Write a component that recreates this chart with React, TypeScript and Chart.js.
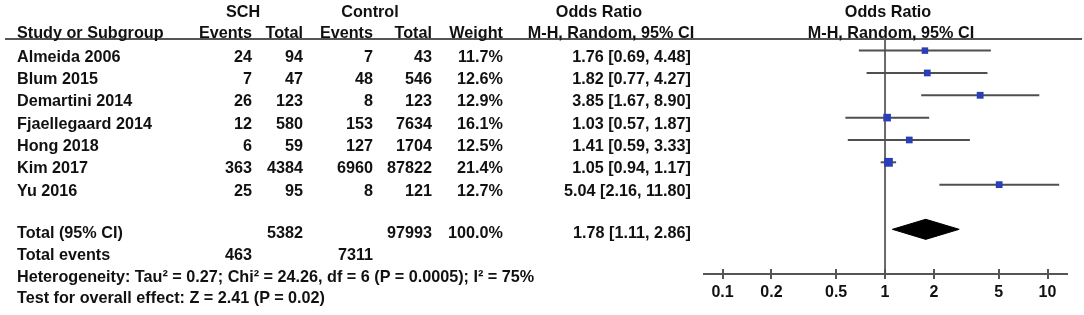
import React, { useEffect, useRef } from "react";
import { Chart, registerables } from "chart.js";

Chart.register(...registerables);

// ---------- data ----------
const studies = ["Almeida 2006", "Blum 2015", "Demartini 2014", "Fjaellegaard 2014", "Hong 2018", "Kim 2017", "Yu 2016"];
const schEvents = [24, 7, 26, 12, 6, 363, 25];
const schTotal = [94, 47, 123, 580, 59, 4384, 95];
const ctrlEvents = [7, 48, 8, 153, 127, 6960, 8];
const ctrlTotal = [43, 546, 123, 7634, 1704, 87822, 121];
const weights = [11.7, 12.6, 12.9, 16.1, 12.5, 21.4, 12.7];
const oddsRatio = [1.76, 1.82, 3.85, 1.03, 1.41, 1.05, 5.04];
const ciLow = [0.69, 0.77, 1.67, 0.57, 0.59, 0.94, 2.16];
const ciHigh = [4.48, 4.27, 8.9, 1.87, 3.33, 1.17, 11.8];

const totalSch = 5382;
const totalCtrl = 97993;
const totalWeight = 100.0;
const totalEventsSch = 463;
const totalEventsCtrl = 7311;
const pooled = [1.78, 1.11, 2.86]; // estimate, low, high
const heterogeneityText = "Heterogeneity: Tau² = 0.27; Chi² = 24.26, df = 6 (P = 0.0005); I² = 75%";
const overallText = "Test for overall effect: Z = 2.41 (P = 0.02)";

const xTicks = [0.1, 0.2, 0.5, 1, 2, 5, 10];

// ---------- layout (styles/positions) ----------
const W = 1084;
const H = 315;
const TEXT_ROW0 = 55.5;
const PITCH = 22.38;
const TOTAL_ROW = 8;
const AXIS_ROW = 10;
const TOP_ROW = -0.52;
const DIAMOND_HALF = 0.45;

const COL = { schE: 252, schT: 303, ctE: 373, ctT: 432, wt: 503, or: 691 };

const fmt = (v: number) => v.toFixed(2);
const orText = (e: number, l: number, h: number) => `${fmt(e)} [${fmt(l)}, ${fmt(h)}]`;

type TProps = { x: number; y: number; text: string | number; align?: "left" | "right" | "center" };
function T({ x, y, text, align = "left" }: TProps) {
  const style: React.CSSProperties = {
    position: "absolute",
    top: y - 10,
    height: 20,
    lineHeight: "20px",
    whiteSpace: "nowrap",
  };
  if (align === "left") {
    style.left = x;
  } else if (align === "right") {
    style.left = x - 400;
    style.width = 400;
    style.textAlign = "right";
  } else {
    style.left = x - 200;
    style.width = 400;
    style.textAlign = "center";
  }
  return <div style={style}>{text}</div>;
}

const tickMarks = {
  id: "tickMarks",
  afterDraw(chart: any) {
    const s = chart.scales.x;
    const y = chart.chartArea.bottom;
    const ctx = chart.ctx;
    ctx.save();
    ctx.strokeStyle = "#555";
    ctx.lineWidth = 2;
    xTicks.forEach((v) => {
      const px = Math.round(s.getPixelForValue(v));
      ctx.beginPath();
      ctx.moveTo(px, y - 5);
      ctx.lineTo(px, y + 5);
      ctx.stroke();
    });
    ctx.restore();
  },
};

export default function App() {
  const ref = useRef<HTMLCanvasElement>(null);

  useEffect(() => {
    document.body.style.margin = "0";
    const canvas = ref.current;
    if (!canvas) return;

    const squareSide = weights.map((w) => 1.9 * Math.sqrt(w));
    const datasets: any[] = [];

    datasets.push({
      type: "line",
      data: oddsRatio.map((v, i) => ({ x: v, y: i })),
      showLine: false,
      pointStyle: "rect",
      pointRadius: squareSide.map((s) => s / Math.SQRT2),
      pointBackgroundColor: "#2a3eb8",
      pointBorderWidth: 0,
      pointBorderColor: "#2a3eb8",
    });

    datasets.push({
      type: "line",
      data: [
        { x: pooled[1], y: TOTAL_ROW },
        { x: pooled[0], y: TOTAL_ROW - DIAMOND_HALF },
        { x: pooled[2], y: TOTAL_ROW },
        { x: pooled[0], y: TOTAL_ROW + DIAMOND_HALF },
        { x: pooled[1], y: TOTAL_ROW },
      ],
      borderColor: "#000",
      borderWidth: 1,
      backgroundColor: "#000",
      fill: "shape",
      pointRadius: 0,
      tension: 0,
    });

    ciLow.forEach((l, i) => {
      datasets.push({
        type: "line",
        data: [
          { x: l, y: i },
          { x: ciHigh[i], y: i },
        ],
        borderColor: "#4f4f4f",
        borderWidth: 2,
        pointRadius: 0,
        fill: false,
      });
    });

    datasets.push({
      type: "line",
      data: [
        { x: 1, y: TOP_ROW },
        { x: 1, y: AXIS_ROW },
      ],
      borderColor: "#6a6a6a",
      borderWidth: 2,
      pointRadius: 0,
      fill: false,
    });

    const xMin = 0.0769;
    const xMax = 13.18;

    const chart = new Chart(canvas, {
      type: "line",
      data: { datasets },
      options: {
        animation: false,
        responsive: false,
        events: [],
        layout: { padding: { left: 704, right: W - 1067, top: 39, bottom: 0 } },
        plugins: { legend: { display: false }, tooltip: { enabled: false } },
        scales: {
          x: {
            type: "logarithmic",
            min: xMin,
            max: xMax,
            afterBuildTicks: (scale: any) => {
              scale.ticks = xTicks.map((v) => ({ value: v }));
            },
            afterFit: (scale: any) => {
              scale.height = H - 274;
            },
            grid: { display: false, drawTicks: false },
            border: { display: true, color: "#555", width: 2 },
            ticks: {
              autoSkip: false,
              maxRotation: 0,
              padding: 9,
              color: "#111",
              font: { family: "'Liberation Sans', Arial, sans-serif", size: 16, weight: "bold" },
              callback: (v: any) => String(v),
            },
          },
          y: {
            type: "linear",
            display: false,
            reverse: true,
            min: TOP_ROW,
            max: AXIS_ROW,
          },
        },
      } as any,
      plugins: [tickMarks],
    });
    return () => chart.destroy();
  }, []);

  const rowY = (i: number) => TEXT_ROW0 + i * PITCH;

  return (
    <div
      style={{
        position: "absolute",
        left: 0,
        top: 0,
        width: W,
        height: H,
        background: "#fff",
        fontFamily: "'Liberation Sans', Arial, sans-serif",
        fontWeight: "bold",
        fontSize: 16.2,
        color: "#111",
        overflow: "hidden",
      }}
    >
      <canvas ref={ref} width={W} height={H} style={{ position: "absolute", left: 0, top: 0 }} />
      <div style={{ position: "absolute", left: 5, top: 38, width: 1077, height: 2, background: "#555" }} />

      <T x={243} y={11} text="SCH" align="center" />
      <T x={370} y={11} text="Control" align="center" />
      <T x={599} y={11} text="Odds Ratio" align="center" />
      <T x={888} y={11} text="Odds Ratio" align="center" />

      <T x={17} y={32} text="Study or Subgroup" />
      <T x={COL.schE} y={32} text="Events" align="right" />
      <T x={COL.schT} y={32} text="Total" align="right" />
      <T x={COL.ctE} y={32} text="Events" align="right" />
      <T x={COL.ctT} y={32} text="Total" align="right" />
      <T x={COL.wt} y={32} text="Weight" align="right" />
      <T x={611} y={32} text="M-H, Random, 95% CI" align="center" />
      <T x={891} y={32} text="M-H, Random, 95% CI" align="center" />

      {studies.map((s, i) => (
        <React.Fragment key={s}>
          <T x={17} y={rowY(i)} text={s} />
          <T x={COL.schE} y={rowY(i)} text={schEvents[i]} align="right" />
          <T x={COL.schT} y={rowY(i)} text={schTotal[i]} align="right" />
          <T x={COL.ctE} y={rowY(i)} text={ctrlEvents[i]} align="right" />
          <T x={COL.ctT} y={rowY(i)} text={ctrlTotal[i]} align="right" />
          <T x={COL.wt} y={rowY(i)} text={`${weights[i].toFixed(1)}%`} align="right" />
          <T x={COL.or} y={rowY(i)} text={orText(oddsRatio[i], ciLow[i], ciHigh[i])} align="right" />
        </React.Fragment>
      ))}

      <T x={17} y={232} text="Total (95% CI)" />
      <T x={COL.schT} y={232} text={totalSch} align="right" />
      <T x={COL.ctT} y={232} text={totalCtrl} align="right" />
      <T x={COL.wt} y={232} text={`${totalWeight.toFixed(1)}%`} align="right" />
      <T x={COL.or} y={232} text={orText(pooled[0], pooled[1], pooled[2])} align="right" />

      <T x={17} y={254} text="Total events" />
      <T x={COL.schE} y={254} text={totalEventsSch} align="right" />
      <T x={COL.ctE} y={254} text={totalEventsCtrl} align="right" />

      <T x={17} y={275.5} text={heterogeneityText} />
      <T x={17} y={297} text={overallText} />
    </div>
  );
}
